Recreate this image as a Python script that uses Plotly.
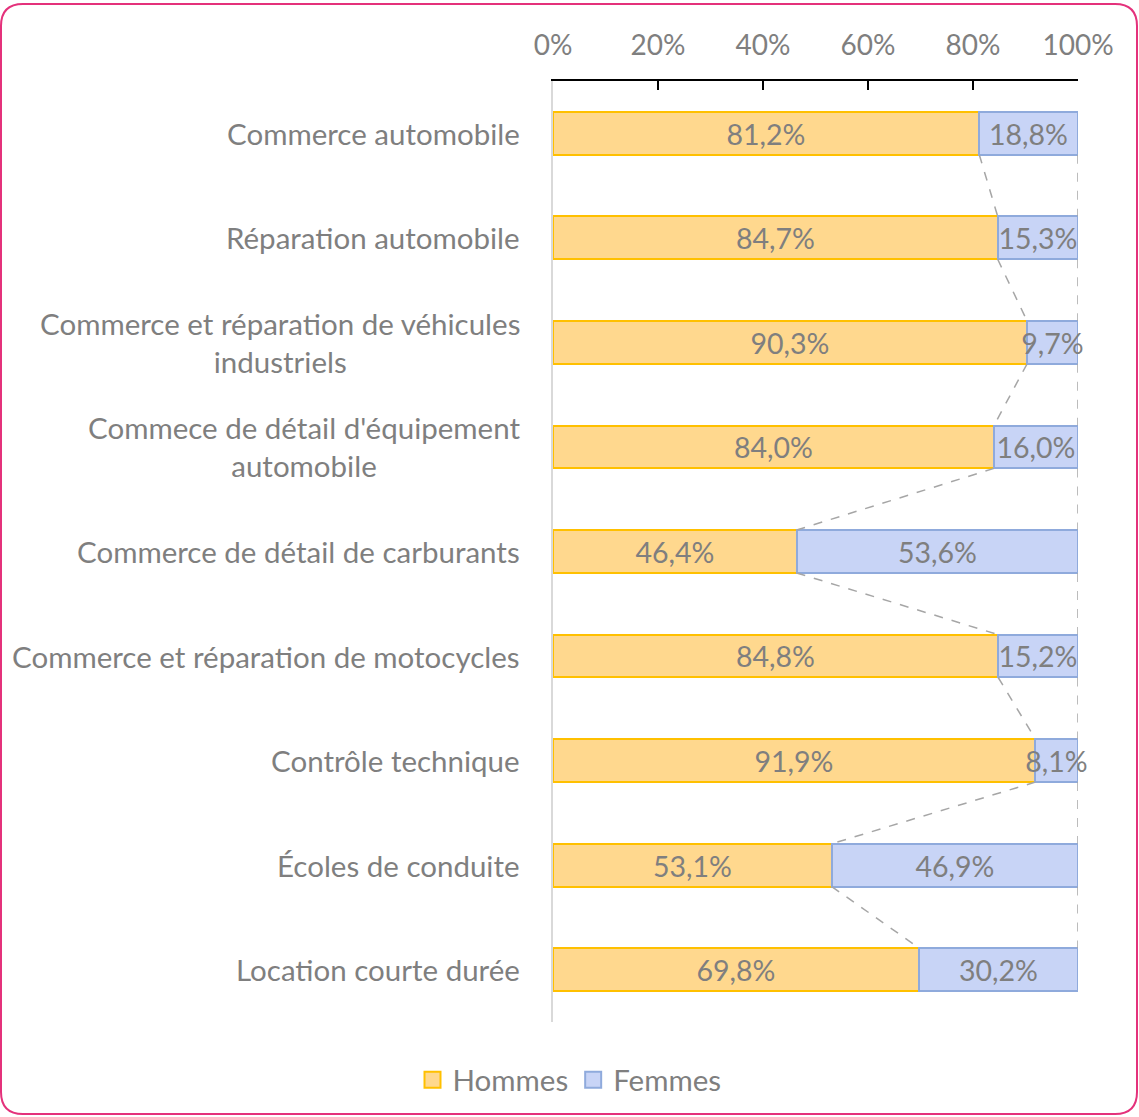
import plotly.graph_objects as go

categories = [
    "Commerce automobile",
    "Réparation automobile",
    "Commerce et réparation de véhicules<br>industriels",
    "Commece de détail d'équipement<br>automobile",
    "Commerce de détail de carburants",
    "Commerce et réparation de motocycles",
    "Contrôle technique",
    "Écoles de conduite",
    "Location courte durée",
]
hommes = [81.2, 84.7, 90.3, 84.0, 46.4, 84.8, 91.9, 53.1, 69.8]
femmes = [18.8, 15.3, 9.7, 16.0, 53.6, 15.2, 8.1, 46.9, 30.2]
x_ticks = [0, 20, 40, 60, 80, 100]

FONT = "Lato"
GREY = "#7F7F7F"
W, H = 1139, 1117
L, R, T, B = 553, 61, 81, 95
BAR_W = 0.41
ORANGE_FILL, ORANGE_LINE = "#FFD88E", "#FFC000"
BLUE_FILL, BLUE_LINE = "#C8D4F6", "#8FAADC"


def fr(v):
    return f"{v:.1f}%".replace(".", ",")


ypos = list(range(len(categories)))

fig = go.Figure()
for name, vals, fill, edge in [("Hommes", hommes, ORANGE_FILL, ORANGE_LINE),
                               ("Femmes", femmes, BLUE_FILL, BLUE_LINE)]:
    fig.add_trace(go.Bar(
        y=ypos, x=vals, orientation="h", name=name, showlegend=False,
        marker=dict(color=fill, line=dict(color=edge, width=2)),
        text=[fr(v) for v in vals], textposition="inside", insidetextanchor="middle",
        constraintext="none", textfont=dict(color=GREY, size=28.5, family=FONT),
        width=BAR_W, cliponaxis=False, hoverinfo="skip",
    ))

# series lines (dashed) between consecutive bars
sx, sy = [], []
for cum in (hommes, [h + f for h, f in zip(hommes, femmes)]):
    for i in range(len(cum) - 1):
        sx += [cum[i], cum[i + 1], None]
        sy += [i + BAR_W / 2, i + 1 - BAR_W / 2, None]
fig.add_trace(go.Scatter(
    x=sx, y=sy, mode="lines", showlegend=False, hoverinfo="skip",
    line=dict(color="#A6A6A6", width=1.5, dash="dash"),
))

# legend entries with bigger square symbols
for name, fill, edge in [("Hommes", ORANGE_FILL, ORANGE_LINE), ("Femmes", BLUE_FILL, BLUE_LINE)]:
    fig.add_trace(go.Scatter(
        x=[None], y=[None], mode="markers", name=name,
        marker=dict(symbol="square", size=16, color=fill, line=dict(color=edge, width=2)),
    ))

# category labels, centred multi-line
for i, c in enumerate(categories):
    fig.add_annotation(
        x=0, xref="paper", xshift=-31, xanchor="right", align="center",
        y=i, yref="y", text=c, showarrow=False,
        font=dict(color=GREY, size=29.5, family=FONT),
    )


# rounded pink frame
def px(x):
    return (x - L) / (W - L - R)


def py(y):
    return (H - B - y) / (H - T - B)


x0, x1, y0, y1, r = 1, 1137, 4, 1114, 22
path = (
    f"M {px(x0 + r)} {py(y0)} L {px(x1 - r)} {py(y0)} "
    f"Q {px(x1)} {py(y0)} {px(x1)} {py(y0 + r)} L {px(x1)} {py(y1 - r)} "
    f"Q {px(x1)} {py(y1)} {px(x1 - r)} {py(y1)} L {px(x0 + r)} {py(y1)} "
    f"Q {px(x0)} {py(y1)} {px(x0)} {py(y1 - r)} L {px(x0)} {py(y0 + r)} "
    f"Q {px(x0)} {py(y0)} {px(x0 + r)} {py(y0)} Z"
)
fig.add_shape(type="path", path=path, xref="paper", yref="paper",
              line=dict(color="#E4317B", width=2))

fig.update_layout(
    width=W, height=H,
    margin=dict(l=L, r=R, t=T, b=B),
    barmode="stack", bargap=0,
    plot_bgcolor="white", paper_bgcolor="white",
    font=dict(family=FONT, color=GREY, size=27),
    xaxis=dict(
        side="top", range=[0, 100], tickvals=x_ticks,
        ticktext=[f"{t}%" for t in x_ticks],
        showgrid=False, zeroline=False, showline=True, linecolor="black",
        linewidth=1.5, ticks="inside", ticklen=9, tickcolor="black", tickwidth=1.5,
        tickfont=dict(size=28, color=GREY), ticklabelstandoff=13, automargin=False,
    ),
    yaxis=dict(
        range=[len(categories) - 0.5, -0.5], showticklabels=False, showgrid=False,
        zeroline=False, showline=True, linecolor="#D9D9D9", linewidth=1.5,
        ticks="", automargin=False,
    ),
    legend=dict(
        orientation="h", xref="container", yref="container", x=0.5, y=1 - 1080 / H,
        xanchor="center", yanchor="middle", font=dict(size=29.5, color=GREY),
        itemwidth=30, traceorder="normal",
    ),
)

fig.write_html("out.html", config={"displayModeBar": False},
               post_script="document.body.style.margin='0';")
